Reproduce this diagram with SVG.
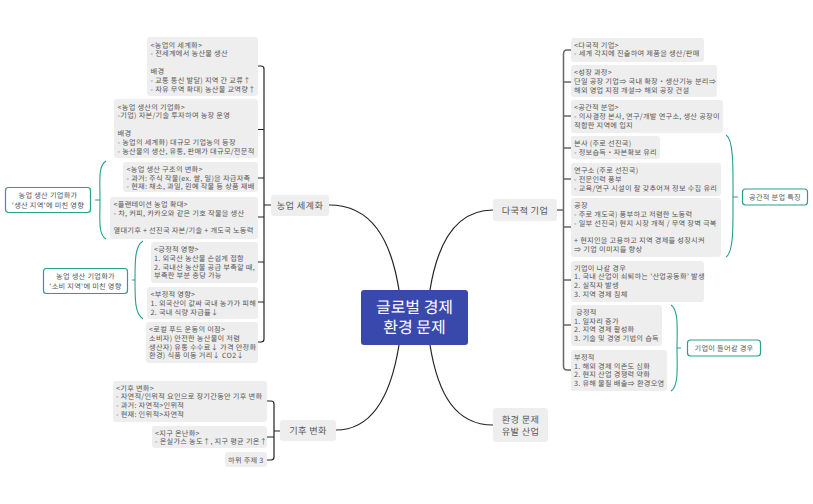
<svg xmlns="http://www.w3.org/2000/svg" width="813" height="504" viewBox="0 0 813 504">
<style>
text{font-family:"Noto Sans CJK KR","Noto Sans",sans-serif;font-size:7.2px;letter-spacing:.28px;fill:#555;text-rendering:geometricPrecision}
.b{fill:#eeeeee}
.c{fill:#fff;stroke:#26a08f;stroke-width:1.2}
.m{font-size:9.2px;letter-spacing:.35px;text-anchor:middle}
.k{text-anchor:middle}
.r{font-size:16px;letter-spacing:0;fill:#fff;text-anchor:middle}
.l{fill:none;stroke:#222;stroke-width:1.2}
.g{fill:none;stroke:#666;stroke-width:1.5}
.s{fill:none;stroke:#26a08f;stroke-width:1.1}
</style>
<rect width="813" height="504" fill="#fff"/>
<g id="connectors">
<path class="l" d="M399 290C391 240 372 205 329 205M430 290C438 240 458 210 493 210M399 345C391 395 372 430 336 430M430 345C438 395 456 425 493 425"/>
<path class="l" d="M271 205H264M258 66H261Q264 66 264 69V339Q264 342 261 342H258M258 129.500H264M258 178H264M258 217H264M258 262H264M258 302H264"/>
<path class="l" d="M280 431H274M267 401H271Q274 401 274 404V457Q274 460 271 460H267M267 437H274"/>
<path class="g" d="M557 210H563.500M571 50H567Q563.500 50 563.500 54V366Q563.500 370 567 370H571M563.500 82H571M563.500 116H571M563.500 148H571M563.500 179H571M563.500 227H571M563.500 280H571M563.500 325H571"/>
<path class="s" d="M106 161C98 166 100 180 100 200C100 220 98 234 106 239M95 200H100"/>
<path class="s" d="M143 241C135 246 135 260 135 280C135 300 135 314 143 319M132 280H135"/>
<path class="s" d="M726 135C734 140 733 170 733 197C733 224 734 252 726 257M733 197H738"/>
<path class="s" d="M671 305C679 310 677 330 677 348C677 366 679 386 671 391M677 348H681"/>
</g>
<g id="center"><rect x="361" y="290" width="107" height="55" rx="3" fill="#3949ab"/><text class="r"><tspan x="414.500" y="313">글로벌 경제</tspan><tspan x="414.500" y="333">환경 문제</tspan></text></g>
<g id="topic-agri"><rect class="b" x="271" y="195" width="58" height="21" rx="3"/><text class="m" x="300" y="209">농업 세계화</text></g>
<g id="topic-multi"><rect class="b" x="493" y="199" width="64" height="22" rx="3"/><text class="m" x="525" y="213.500">다국적 기업</text></g>
<g id="topic-climate"><rect class="b" x="280" y="420" width="56" height="21" rx="3"/><text class="m" x="308" y="434">기후 변화</text></g>
<g id="topic-env"><rect class="b" x="493" y="408" width="55" height="34" rx="3"/><text class="m"><tspan x="520.500" y="422.500">환경 문제</tspan><tspan x="520.500" y="434.500">유발 산업</tspan></text></g>

<g id="a1"><rect class="b" x="147" y="37" width="111" height="59" rx="3"/><text y="47.500"><tspan x="150.500">&lt;농업의 세계화&gt;</tspan><tspan x="150.500" dy="8.800">- 전세계에서 농산물 생산</tspan><tspan x="150.500" dy="17.600">배경</tspan><tspan x="150.500" dy="8.800">- 교통 통신 발달) 지역 간 교류↑</tspan><tspan x="150.500" dy="8.800">- 자유 무역 확대) 농산물 교역량↑</tspan></text></g>
<g id="a2"><rect class="b" x="114" y="99" width="144" height="59" rx="3"/><text y="109.500"><tspan x="117.500">&lt;농업 생산의 기업화&gt;</tspan><tspan x="117.500" dy="8.800">-기업) 자본/기술 투자하여 농장 운영</tspan><tspan x="117.500" dy="17.600">배경</tspan><tspan x="117.500" dy="8.800">- 농업의 세계화) 대규모 기업농의 등장</tspan><tspan x="117.500" dy="8.800">- 농산물의 생산, 유통, 판매가 대규모/전문적</tspan></text></g>
<g id="a3"><rect class="b" x="123" y="162" width="135" height="30" rx="3"/><text y="171.800"><tspan x="126.500">&lt;농업 생산 구조의 변화&gt;</tspan><tspan x="126.500" dy="8.800">- 과거: 주식 작물(ex. 쌀, 밀)을 자급자족</tspan><tspan x="126.500" dy="8.800">- 현재: 채소, 과일, 원예 작물 등 상품 재배</tspan></text></g>
<g id="a4"><rect class="b" x="110" y="197" width="148" height="42" rx="3"/><text y="207"><tspan x="113.500">&lt;플랜테이션 농업 확대&gt;</tspan><tspan x="113.500" dy="8.800">- 차, 커피, 카카오와 같은 기호 작물을 생산</tspan><tspan x="113.500" dy="17.600">열대기후 + 선진국 자본/기술 + 개도국 노동력</tspan></text></g>
<g id="a5"><rect class="b" x="151" y="242" width="107" height="41" rx="3"/><text y="252"><tspan x="154">&lt;긍정적  영향&gt;</tspan><tspan x="154" dy="8.800">1. 외국산 농산물 손쉽게 접함</tspan><tspan x="154" dy="8.800">2. 국내산 농산물 공급 부족할 때,</tspan><tspan x="154" dy="8.800">부족한 부분 충당 가능</tspan></text></g>
<g id="a6"><rect class="b" x="147" y="287" width="111" height="32" rx="3"/><text y="296.500"><tspan x="150.500">&lt;부정적 영향&gt;</tspan><tspan x="150.500" dy="9">1. 외국산이 값싸 국내 농가가 피해</tspan><tspan x="150.500" dy="9">2. 국내 식량 자급률↓</tspan></text></g>
<g id="a7"><rect class="b" x="146" y="322" width="112" height="41" rx="3"/><text y="332"><tspan x="149">&lt;로컬 푸드 운동의 이점&gt;</tspan><tspan x="149" dy="8.800">소비자) 안전한 농산물이 저렴</tspan><tspan x="149" dy="8.800">생산자) 유통 수수료↓ 가격 안정화</tspan><tspan x="149" dy="8.800">환경) 식품 이동 거리↓ CO2↓</tspan></text></g>

<g id="c1"><rect class="b" x="113" y="381" width="154" height="41" rx="3"/><text y="390.500"><tspan x="116">&lt;기후 변화&gt;</tspan><tspan x="116" dy="8.800">- 자연적/인위적 요인으로 장기간동안 기후 변화</tspan><tspan x="116" dy="8.800">- 과거: 자연적&gt;인위적</tspan><tspan x="116" dy="8.800">- 현재: 인위적&gt;자연적</tspan></text></g>
<g id="c2"><rect class="b" x="152" y="426" width="115" height="22" rx="3"/><text y="435.500"><tspan x="155">&lt;지구 온난화&gt;</tspan><tspan x="155" dy="8.800">- 온실가스 농도↑, 지구 평균 기온↑</tspan></text></g>
<g id="c3"><rect class="b" x="225" y="452" width="42" height="15" rx="3"/><text x="228" y="462.500">하위 주제 3</text></g>

<g id="m1"><rect class="b" x="571" y="38" width="133" height="24" rx="3"/><text y="47.500"><tspan x="574">&lt;다국적 기업&gt;</tspan><tspan x="574" dy="8.800">- 세계 각지에 진출하여 제품을 생산/판매</tspan></text></g>
<g id="m2"><rect class="b" x="571" y="65" width="146" height="32" rx="3"/><text y="74.800"><tspan x="574">&lt;성장 과정&gt;</tspan><tspan x="574" dy="9">단일 공장 기업⇒ 국내 확장・생산기능 분리⇒</tspan><tspan x="574" dy="9">해외 영업 지점 개설⇒ 해외 공장 건설</tspan></text></g>
<g id="m3"><rect class="b" x="571" y="100" width="152" height="33" rx="3"/><text y="110"><tspan x="574">&lt;공간적 분업&gt;</tspan><tspan x="574" dy="9">- 의사결정 본사, 연구/개발 연구소, 생산 공장이</tspan><tspan x="574" dy="9">적합한 지역에 입지</tspan></text></g>
<g id="m4"><rect class="b" x="571" y="136" width="89" height="23" rx="3"/><text y="145.500"><tspan x="574">본사 (주로 선진국)</tspan><tspan x="574" dy="9">- 정보습득・자본확보 유리</tspan></text></g>
<g id="m5"><rect class="b" x="571" y="163" width="150" height="33" rx="3"/><text y="172.800"><tspan x="574">연구소 (주로 선진국)</tspan><tspan x="574" dy="9">- 전문인력 풍부</tspan><tspan x="574" dy="9">- 교육/연구 시설이 잘 갖추어져 정보 수집 유리</tspan></text></g>
<g id="m6"><rect class="b" x="571" y="198" width="150" height="59" rx="3"/><text y="208"><tspan x="574">공장</tspan><tspan x="574" dy="8.800">- 주로 개도국) 풍부하고 저렴한 노동력</tspan><tspan x="574" dy="8.800">- 일부 선진국) 현지 시장 개척 / 무역 장벽 극복</tspan><tspan x="574" dy="17.600">+ 현지인을 고용하고 지역 경제를 성장시켜</tspan><tspan x="574" dy="8.800">⇒ 기업 이미지를 향상</tspan></text></g>
<g id="m7"><rect class="b" x="571" y="261" width="133" height="41" rx="3"/><text y="270.500"><tspan x="574">기업이 나갈 경우</tspan><tspan x="574" dy="8.800">1. 국내 산업이 쇠퇴하는 '산업공동화' 발생</tspan><tspan x="574" dy="8.800">2. 실직자 발생</tspan><tspan x="574" dy="8.800">3. 지역 경제 침체</tspan></text></g>
<g id="m8"><rect class="b" x="571" y="305" width="91" height="41" rx="3"/><text y="314.800"><tspan x="576">긍정적</tspan><tspan x="574" dy="8.800">1. 일자리 증가</tspan><tspan x="574" dy="8.800">2. 지역 경제 활성화</tspan><tspan x="574" dy="8.800">3. 기술 및 경영 기법의 습득</tspan></text></g>
<g id="m9"><rect class="b" x="571" y="350" width="96" height="41" rx="3"/><text y="359.800"><tspan x="574">부정적</tspan><tspan x="574" dy="8.800">1. 해외 경제 의존도 심화</tspan><tspan x="574" dy="8.800">2. 현지 산업 경쟁력 약화</tspan><tspan x="574" dy="8.800">3. 유해 물질 배출⇒ 환경오염</tspan></text></g>

<g id="note1"><rect class="c" x="5.500" y="187.500" width="85" height="25" rx="3"/><text class="k"><tspan x="48" y="198">농업 생산 기업화가</tspan><tspan x="48" y="207.500">'생산 지역'에 미친 영향</tspan></text></g>
<g id="note2"><rect class="c" x="43.500" y="268.500" width="84" height="25" rx="3"/><text class="k"><tspan x="85.500" y="279">농업 생산 기업화가</tspan><tspan x="85.500" y="288.500">'소비 지역'에 미친 영향</tspan></text></g>
<g id="note3"><rect class="c" x="742.500" y="189" width="65" height="16" rx="3"/><text class="k" x="775" y="199.800">공간적 분업 특징</text></g>
<g id="note4"><rect class="c" x="687.500" y="340" width="73" height="16" rx="3"/><text class="k" x="724" y="350.800">기업이 들어갈 경우</text></g>
</svg>
